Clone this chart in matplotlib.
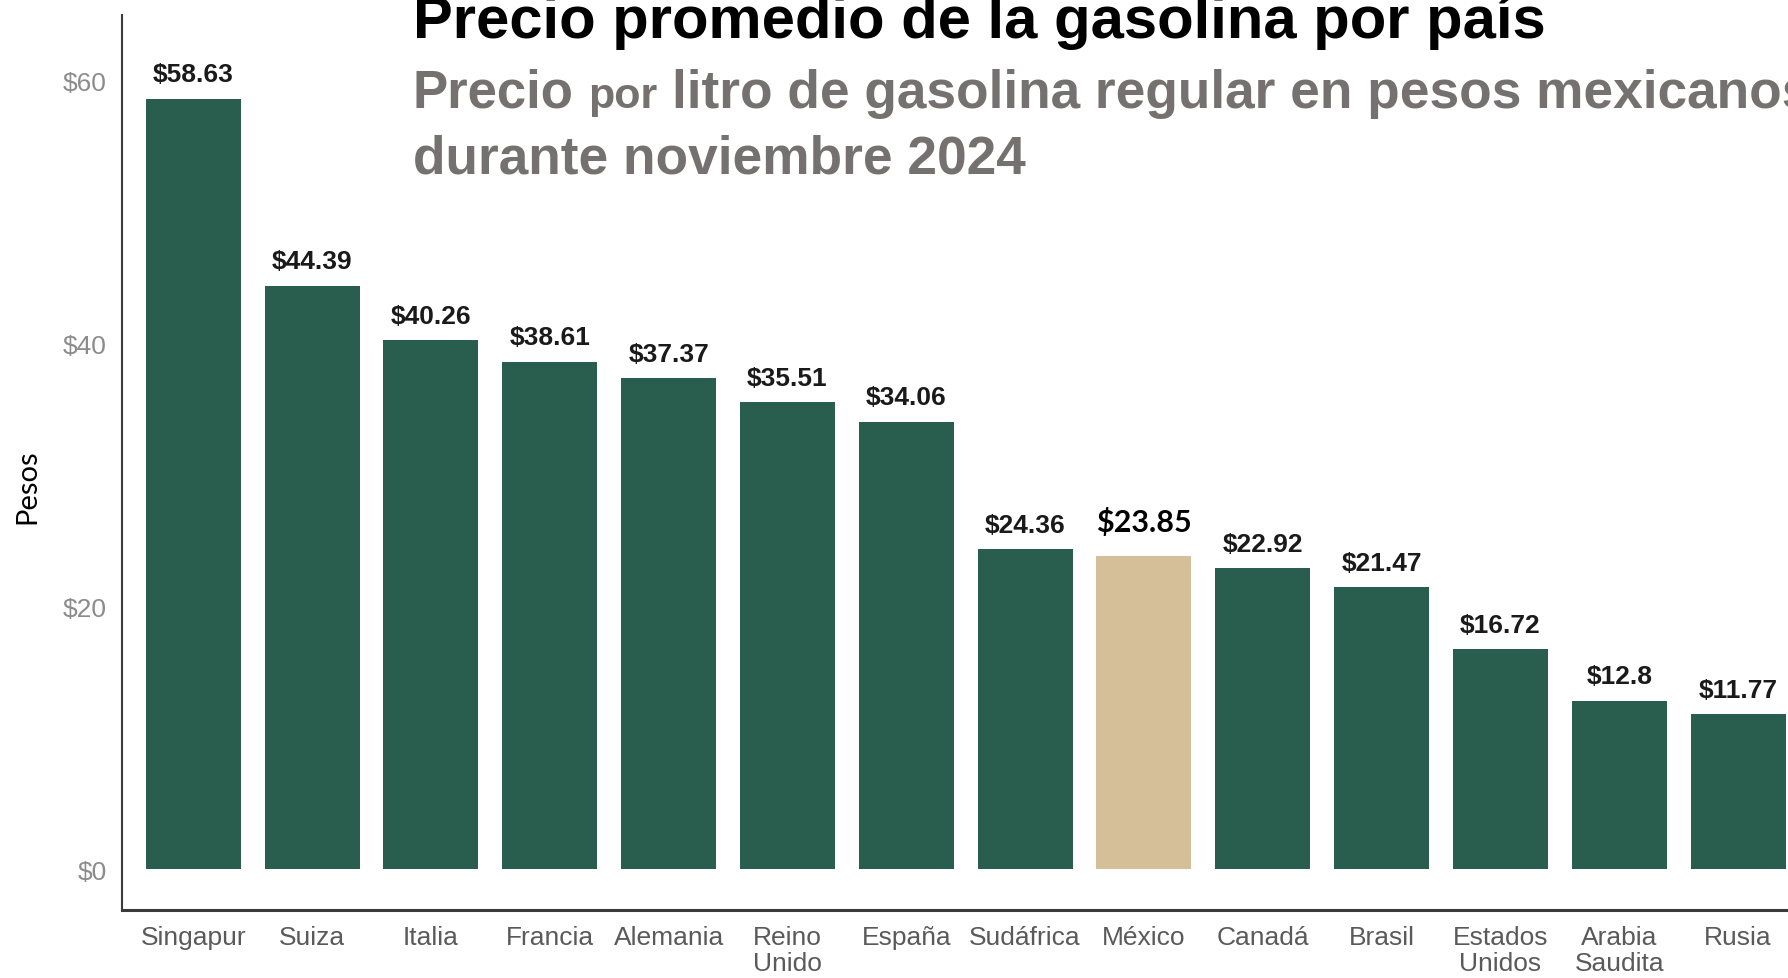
import matplotlib
matplotlib.use("Agg")
import matplotlib.pyplot as plt

# datos (pesos por litro, noviembre 2024)
paises = ["Singapur", "Suiza", "Italia", "Francia", "Alemania", "Reino\nUnido", "España",
          "Sudáfrica", "México", "Canadá", "Brasil", "Estados\nUnidos", "Arabia\nSaudita", "Rusia"]
precios = [58.63, 44.39, 40.26, 38.61, 37.37, 35.51, 34.06, 24.36, 23.85, 22.92, 21.47, 16.72, 12.8, 11.77]
y_ticks = [0, 20, 40, 60]
resaltado = "México"

W, H = 1788, 979
verde = "#295e4e"
arena = "#d4bf99"
gris_sub = "#767171"
fuente = ["Liberation Sans", "DejaVu Sans"]

fig = plt.figure(figsize=(W / 100, H / 100), dpi=100)
fig.patch.set_facecolor("white")
ax = fig.add_axes([122 / W, 68 / H, 1 - 122 / W, (911 - 16) / H])

x = list(range(len(paises)))
colores = [arena if p == resaltado else verde for p in paises]
ax.bar(x, precios, width=0.8, color=colores, zorder=2)

for xi, p, v in zip(x, paises, precios):
    if p == resaltado:
        ax.annotate(f"${v:g}", (xi, v), xytext=(0, 18), textcoords="offset points",
                    ha="center", va="baseline", fontsize=22, fontweight="bold",
                    family=["Lato", "DejaVu Sans"], color="black")
    else:
        ax.annotate(f"${v:g}", (xi, v), xytext=(0, 12.5), textcoords="offset points",
                    ha="center", va="baseline", fontsize=19, fontweight="bold",
                    family=fuente, color="#1a1a1a")

ax.set_xlim(-0.6, 13.42)
ax.set_ylim(-3.12, 65.0)
ax.set_xticks(x)
ax.set_xticklabels(paises, fontsize=19, family=fuente, color="#5a5a5a", linespacing=1.1)
ax.set_yticks(y_ticks)
ax.set_yticklabels([f"${t}" for t in y_ticks], fontsize=19, family=fuente, color="#8c8c8c")
ax.tick_params(axis="both", length=0)
ax.tick_params(axis="x", pad=11)
ax.tick_params(axis="y", pad=11)

for s in ["top", "right"]:
    ax.spines[s].set_visible(False)
ax.spines["left"].set_color("#3a3a3a")
ax.spines["left"].set_linewidth(1.5)
ax.spines["bottom"].set_color("#3a3a3a")
ax.spines["bottom"].set_linewidth(2.2)
ax.set_facecolor("none")

fig.text(27 / W, 1 - 487 / H, "Pesos", rotation=90, ha="center", va="center",
         fontsize=21, family=["Lato", "DejaVu Sans"], color="black")

# titulo y subtitulo
fig.text(413 / W, 1 - 38 / H, "Precio promedio de la gasolina por país", fontsize=43,
         fontweight="bold", family=fuente, color="black", va="baseline")

fig.canvas.draw()
r = fig.canvas.get_renderer()
y_sub = 1 - 108 / H
t1 = fig.text(413 / W, y_sub, "Precio", fontsize=38, fontweight="bold", family=fuente,
              color=gris_sub, va="baseline")
x1 = t1.get_window_extent(r).x1 + 14
t2 = fig.text(x1 / W, y_sub, "por", fontsize=31, fontweight="bold", family=fuente,
              color=gris_sub, va="baseline")
x2 = t2.get_window_extent(r).x1 + 15
fig.text(x2 / W, y_sub, "litro de gasolina regular en pesos mexicanos", fontsize=38.3,
         fontweight="bold", family=fuente, color=gris_sub, va="baseline")
fig.text(413 / W, 1 - 173 / H, "durante noviembre 2024", fontsize=38.3, fontweight="bold",
         family=fuente, color=gris_sub, va="baseline")

fig.savefig("out.png", dpi=100)
